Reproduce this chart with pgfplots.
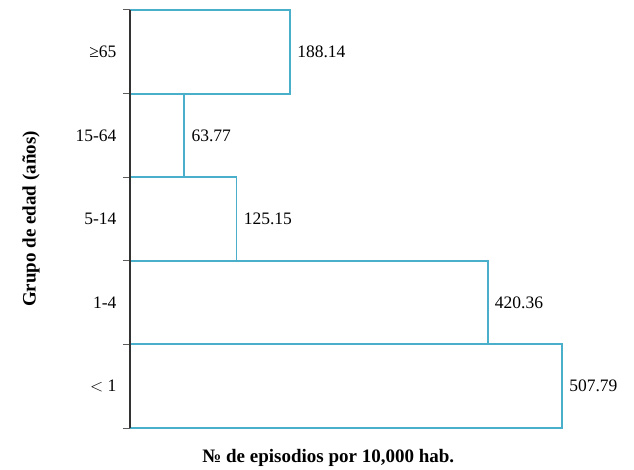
\documentclass[border=0pt]{standalone}
\usepackage{pgfplots}
\pgfplotsset{compat=1.18}
\usepackage{fontspec}
\setmainfont{Liberation Serif}
\definecolor{barblue}{HTML}{4AAFCB}
\definecolor{axisgray}{HTML}{333333}

\begin{document}
\begin{tikzpicture}
\useasboundingbox (-130pt,-41pt) rectangle (504pt,428pt);
\begin{axis}[
  scale only axis,
  width=432pt, height=418pt,
  xbar, bar width=1, bar shift=0pt,
  xmin=0, xmax=507.79,
  ymin=-0.5, ymax=4.5,
  clip=false,
  axis on top,
  axis x line=none,
  axis y line*=left,
  y axis line style={axisgray, line width=1.6pt, -},
  ytick={0,1,2,3,4},
  yticklabels={$<$ 1, 1-4, 5-14, 15-64, {≥65}},
  major tick length=0pt,
  minor ytick={-0.5,0.5,1.5,2.5,3.5,4.5},
  minor tick length=7pt,
  tick align=outside,
  minor tick style={axisgray!80, line width=1pt},
  yticklabel style={font=\fontsize{17.5}{20}\selectfont, anchor=east, xshift=-10pt},
  /pgf/number format/assume math mode=true,
  ylabel={Grupo de edad (años)},
  every axis y label/.style={at={(rel axis cs:0,0.5)}, xshift=-99pt, rotate=90, anchor=center,
    font=\bfseries\fontsize{19}{22}\selectfont},
  nodes near coords,
  nodes near coords style={font=\fontsize{17.5}{20}\selectfont, anchor=west, xshift=3pt, /pgf/number format/.cd, fixed, fixed zerofill, precision=2},
]
\addplot[draw=barblue, fill=white, line width=1.9pt] coordinates {
  (507.79,0) (420.36,1) (125.15,2) (63.77,3) (188.14,4)
};
\node[font=\bfseries\fontsize{19}{22}\selectfont] at (rel axis cs:0.459,0) [yshift=-30pt] {№ de episodios por 10,000 hab.};
\end{axis}
\end{tikzpicture}
\end{document}
